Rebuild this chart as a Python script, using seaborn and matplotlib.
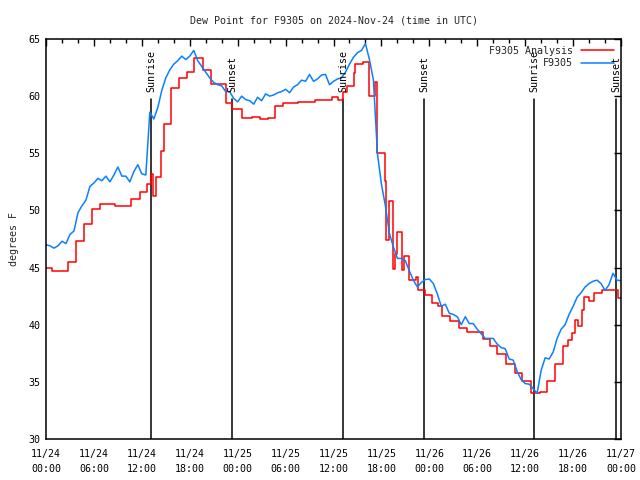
import numpy as np
import pandas as pd
import matplotlib
matplotlib.use("Agg")
import matplotlib.pyplot as plt
import matplotlib.dates as mdates
import seaborn as sns

# ---------------- data ----------------
start = pd.Timestamp("2024-11-24 00:00")

# observed dew point (F9305), every 30 minutes from 11/24 00:00
obs_values = [
    47.0, 46.9, 46.7, 46.9, 47.3, 47.1, 47.9, 48.2, 49.8, 50.4,
    50.9, 52.1, 52.4, 52.8, 52.6, 53.0, 52.5, 53.1, 53.8, 53.0,
    53.0, 52.5, 53.4, 54.0, 53.2, 53.1, 58.6, 58.0, 59.0, 60.5,
    61.6, 62.3, 62.8, 63.1, 63.5, 63.2, 63.5, 64.0, 63.1, 62.6,
    62.1, 61.6, 61.2, 61.0, 60.9, 60.4, 60.4, 59.8, 59.5, 60.0,
    59.7, 59.6, 59.3, 59.9, 59.6, 60.2, 60.0, 60.1, 60.3, 60.4,
    60.6, 60.3, 60.8, 61.0, 61.4, 61.3, 61.9, 61.3, 61.5, 61.85,
    61.9, 61.0, 61.3, 61.5, 61.6, 62.1, 62.8, 63.4, 63.8, 64.0,
    64.6, 63.2, 61.4, 55.0, 52.3, 50.4, 48.0, 46.8, 45.8, 45.8,
    45.6, 44.7, 43.9, 43.3, 43.7, 43.95, 44.0, 43.6, 42.7, 41.6,
    41.8, 41.0, 40.9, 40.7, 40.0, 40.7, 40.1, 40.1, 39.6, 39.2,
    38.8, 38.8, 38.8, 38.3, 38.0, 37.9, 37.0, 36.9, 35.9, 35.2,
    34.85, 34.8, 34.4, 34.0, 36.0, 37.1, 37.0, 37.6, 38.8, 39.6,
    40.0, 40.9, 41.6, 42.4, 42.8, 43.3, 43.6, 43.8, 43.9, 43.6,
    43.0, 43.5, 44.5, 43.9, 43.85,
]

# analysis (step series): hours since start, value
ana_hours = [
    0, 0.7, 2.7, 3.7, 4.7, 5.8, 6.8, 8.6, 10.7, 11.8,
    12.6, 13.1, 13.35, 13.75, 14.35, 14.8, 15.7, 16.7, 17.6, 18.55,
    19.7, 20.6, 22.6, 23.3, 24.6, 25.75, 26.8, 27.8, 28.7, 29.7,
    31.6, 33.7, 35.8, 36.6, 37.25, 37.7, 38.55, 38.7, 39.7, 40.5,
    41.15, 41.45, 42.45, 42.6, 42.95, 43.5, 43.7, 44.0, 44.55, 44.85,
    45.5, 46.35, 46.6, 47.5, 48.3, 49.1, 49.55, 50.6, 51.7, 52.7,
    54.75, 55.6, 56.5, 57.65, 58.7, 59.55, 60.7, 61.8, 62.7, 63.75,
    64.7, 65.4, 65.9, 66.25, 66.65, 67.1, 67.35, 68.0, 68.6, 69.6,
    71.6, 72.0,
]
ana_values = [
    45.0, 44.7, 45.5, 47.3, 48.8, 50.1, 50.6, 50.4, 51.0, 51.6,
    52.3, 53.2, 51.3, 52.95, 55.2, 57.6, 60.7, 61.6, 62.1, 63.3,
    62.3, 61.1, 59.4, 58.9, 58.1, 58.2, 58.0, 58.1, 59.1, 59.4,
    59.5, 59.7, 59.9, 59.7, 60.4, 60.9, 62.0, 62.8, 63.0, 60.0,
    61.2, 55.0, 52.6, 47.4, 50.8, 44.9, 46.2, 48.1, 44.8, 46.0,
    43.9, 44.15, 43.0, 42.6, 41.9, 41.6, 40.75, 40.35, 39.7, 39.4,
    38.75, 38.15, 37.4, 36.6, 35.8, 35.05, 34.0, 34.1, 35.1, 36.6,
    38.15, 38.7, 39.3, 40.4, 39.9, 41.3, 42.45, 42.1, 42.75, 43.05,
    42.3, 42.3,
]

# sun events (hours since start)
event_hours = [13.2, 23.33, 37.23, 47.37, 61.15, 71.4]
event_labels = ["Sunrise", "Sunset", "Sunrise", "Sunset", "Sunrise", "Sunset"]

title = "Dew Point for F9305 on 2024-Nov-24 (time in UTC)"
ylabel = "degrees F"
series_names = ["F9305 Analysis", "F9305"]

# ---------------- build frames ----------------
obs_df = pd.DataFrame({
    "time": pd.date_range(start, periods=len(obs_values), freq="30min"),
    "value": obs_values,
})
ana_df = pd.DataFrame({
    "time": start + pd.to_timedelta(ana_hours, unit="h"),
    "value": ana_values,
})
event_times = start + pd.to_timedelta(event_hours, unit="h")

# ---------------- plot ----------------
sns.set_style("white")
plt.rcParams["font.family"] = ["DejaVu Sans Mono", "DejaVu Sans"]
FS = 7.2

fig = plt.figure(figsize=(6.4, 4.8), dpi=100)
ax = fig.add_axes([46 / 640, 41 / 480, 575 / 640, 400 / 480])

RED = "#ff0000"
BLUE = "#0a80ff"

sns.lineplot(data=ana_df, x="time", y="value", ax=ax, color=RED,
             linewidth=1.1, drawstyle="steps-post", label=series_names[0])
sns.lineplot(data=obs_df, x="time", y="value", ax=ax, color=BLUE,
             linewidth=1.1, label=series_names[1])

ymin, ymax = 30, 65
ax.set_ylim(ymin, ymax)
ax.set_xlim(start, start + pd.Timedelta(hours=72))

line_top = 59.75
for t, lab in zip(event_times, event_labels):
    ax.plot([t, t], [ymin, line_top], color="black", linewidth=1.1, zorder=1)
    ax.text(t, 60.35, lab, rotation=90, ha="center", va="bottom",
            fontsize=FS, color="black")

ax.set_yticks(np.arange(30, 66, 5))
ax.xaxis.set_major_locator(mdates.HourLocator(byhour=[0, 6, 12, 18]))
ax.xaxis.set_minor_locator(mdates.HourLocator(byhour=range(0, 24, 2)))
ax.xaxis.set_major_formatter(mdates.DateFormatter("%m/%d\n%H:%M"))

ax.tick_params(axis="both", which="both", direction="in", top=True, right=True,
               labelsize=FS, colors="black")
ax.tick_params(axis="both", which="major", length=5, width=1)
ax.tick_params(axis="x", which="minor", length=3, width=1)
ax.tick_params(axis="x", which="major", pad=7)
ax.tick_params(axis="y", which="major", pad=4)
for lbl in ax.get_xticklabels():
    lbl.set_linespacing(1.6)

for s in ax.spines.values():
    s.set_color("black")
    s.set_linewidth(1.1)

ax.set_xlabel("")
ax.set_ylabel(ylabel, fontsize=FS, labelpad=7)
ax.set_title(title, fontsize=FS, pad=11)

leg = ax.legend(loc="upper right", frameon=False, fontsize=FS,
                markerfirst=False, handlelength=3.3, handletextpad=0.8,
                labelspacing=0.25, borderaxespad=0.3)

fig.savefig("out.png", dpi=100, facecolor="white")
